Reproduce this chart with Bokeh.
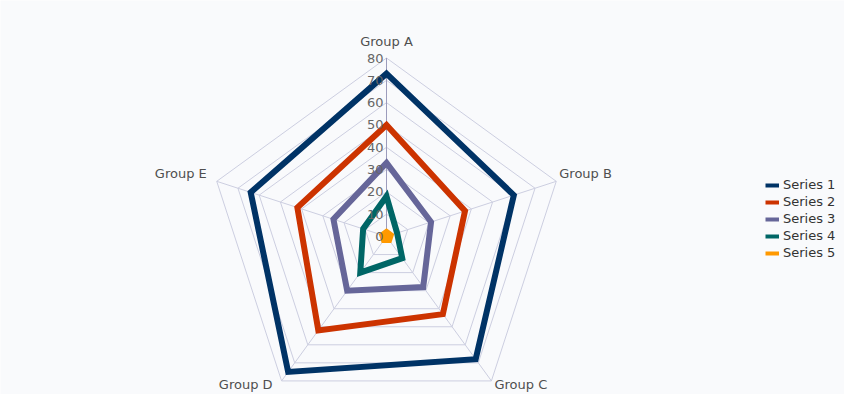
import math
from bokeh.plotting import figure
from bokeh.models import Range1d, Legend, LegendItem
from bokeh.core.properties import value
from bokeh.embed import file_html
from bokeh.resources import INLINE

categories = ["Group A", "Group B", "Group C", "Group D", "Group E"]
series_names = ["Series 1", "Series 2", "Series 3", "Series 4", "Series 5"]
series1 = [73, 60, 68, 75, 64]
series2 = [50, 37, 43, 52, 42]
series3 = [33, 21, 28, 30, 25]
series4 = [18, 5, 12, 20, 11]
series5 = [2, 2, 2, 2, 2]
tick_values = [0, 10, 20, 30, 40, 50, 60, 70, 80]
tick_labels = ["0", "10", "20", "30", "40", "50", "60", "70", "80"]
axis_max = 80

colors = ["#003366", "#CC3300", "#666699", "#006666", "#FF9900"]
series = [series1, series2, series3, series4, series5]

FONT = "DejaVu Sans"
W, H = 844, 394
PX = 178.5 / axis_max      # pixels per unit
CX, CY = 386, 236          # centre in frame pixels

p = figure(width=W, height=H, output_backend="svg", toolbar_location=None,
           x_range=Range1d(-CX / PX, (W - CX) / PX),
           y_range=Range1d(-(H - CY) / PX, CY / PX),
           min_border=0, background_fill_color="#f9fafc",
           border_fill_color="#f9fafc", outline_line_color=None)
p.axis.visible = False
p.grid.visible = False

n = len(categories)
angles = [2 * math.pi * k / n for k in range(n)]

def pos(vals):
    xs = [v * math.sin(a) for v, a in zip(vals, angles)]
    ys = [v * math.cos(a) for v, a in zip(vals, angles)]
    return xs, ys

# rings
ring_xs, ring_ys = [], []
for t in tick_values[1:]:
    xs, ys = pos([t] * n)
    ring_xs.append(xs + [xs[0]])
    ring_ys.append(ys + [ys[0]])
p.multi_line(ring_xs, ring_ys, line_color="#cccee0", line_width=1)

# spokes
ox, oy = pos([axis_max] * n)
p.segment(x0=[0] * n, y0=[0] * n, x1=ox, y1=oy, line_color="#cccee0", line_width=1)
p.segment(x0=[0], y0=[0], x1=[ox[0]], y1=[oy[0]], line_color="#9c9cbc", line_width=1)

# series
for i, (name, vals, col) in enumerate(zip(series_names, series, colors)):
    xs, ys = pos(vals)
    p.patch(xs, ys, fill_color=col, fill_alpha=1 if i == 4 else 0,
            line_color=col, line_width=6, line_join="miter")

# tick labels
p.text(x=[0] * len(tick_values), y=tick_values, text=tick_labels,
       x_offset=-3, text_align="right", text_baseline="middle",
       text_font=value(FONT), text_font_size="13px", text_color="#666666")

# category labels
label_offsets = [(0, -17, "center"), (3, -8, "left"), (3, 4, "left"),
                 (-9, 4, "right"), (-10, -8, "right")]
for cat, x, y, (dx, dy, al) in zip(categories, ox, oy, label_offsets):
    p.text(x=[x], y=[y], text=[cat], x_offset=dx, y_offset=dy,
           text_align=al, text_baseline="middle",
           text_font=value(FONT), text_font_size="13px", text_color="#4f4f4f")

# legend
items = []
for name, col in zip(series_names, colors):
    r = p.line(x=[float("nan")], y=[float("nan")], line_color=col, line_width=4)
    items.append(LegendItem(label=name, renderers=[r]))
legend = Legend(items=items, location=(765, 134), orientation="vertical",
                glyph_width=14, glyph_height=14, label_height=14,
                label_standoff=4, spacing=2, padding=0, margin=0,
                border_line_color=None, background_fill_alpha=0,
                label_text_font=FONT, label_text_font_size="13px",
                label_text_color="#333333")
p.add_layout(legend)

open("out.html", "w").write(file_html(p, INLINE))
